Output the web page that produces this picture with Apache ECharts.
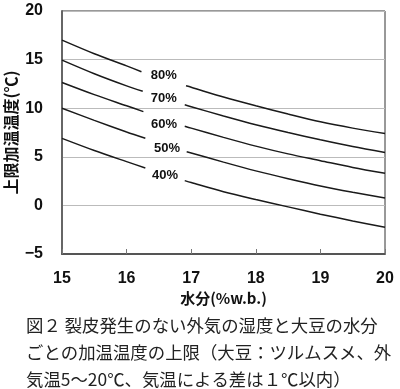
<!DOCTYPE html>
<html><head><meta charset="utf-8">
<script src="https://cdn.jsdelivr.net/npm/echarts@6/dist/echarts.min.js"></script>
<style>html,body{margin:0;padding:0;background:#fff}#c{width:400px;height:389px}</style>
</head><body><div id="c"></div>
<script>
// x = moisture (%w.b.); the two nulls are replaced by the gap edges where the label sits
const xs   = [15, 15.5, 16, null, null, 17, 17.5, 18, 18.5, 19, 19.5, 20];
const gapX = {
  '80%': [16.23, 16.92],
  '70%': [16.25, 16.90],
  '60%': [16.26, 16.90],
  '50%': [16.29, 16.93],
  '40%': [16.29, 16.90]
};
const rh80 = [17.0, 15.6, 14.35, 13.75, 12.3, 12.15, 11.15, 10.25, 9.4, 8.6, 7.95, 7.4];
const rh70 = [14.95, 13.55, 12.3, 11.75, 10.35, 10.15, 9.2, 8.3, 7.5, 6.75, 6.05, 5.45];
const rh60 = [12.65, 11.4, 10.25, 9.65, 8.15, 7.95, 7.0, 6.1, 5.3, 4.6, 3.9, 3.3];
const rh50 = [10.0, 8.75, 7.55, 6.9, 5.52, 5.4, 4.45, 3.55, 2.75, 2.0, 1.35, 0.75];
const rh40 = [6.9, 5.65, 4.5, 3.85, 2.55, 2.35, 1.4, 0.6, -0.15, -0.9, -1.6, -2.25];
const seriesNames = ['80%', '70%', '60%', '50%', '40%'];
const xTicks = [15, 16, 17, 18, 19, 20];
const yTicks = [-5, 0, 5, 10, 15, 20];
const yName = '上限加温温度(℃)';
const xName = '水分(%w.b.)';
const caption = [
  '図２ 裂皮発生のない外気の湿度と大豆の水分',
  'ごとの加温温度の上限（大豆：ツルムスメ、外',
  '気温5～20℃、気温による差は１℃以内）'
];
const labelOffsets = {'80%': [0, -3], '70%': [0, 0], '60%': [0, 6], '50%': [1, 3], '40%': [0, 1]};

const vals = [rh80, rh70, rh60, rh50, rh40];
function build(name, v) {
  const g = gapX[name];
  const pts = [[xs[0], v[0]], [xs[1], v[1]], [xs[2], v[2]], [g[0], v[3]], '-', [g[1], v[4]]];
  for (let i = 5; i < xs.length; i++) pts.push([xs[i], v[i]]);
  return pts;
}
const series = seriesNames.map((n, i) => {
  const v = vals[i], g = gapX[n];
  return {
    name: n, type: 'line', data: build(n, v), smooth: 0.3, symbol: 'none',
    connectNulls: false,
    lineStyle: {color: '#1a1a1a', width: 1.5},
    markPoint: {
      symbol: 'circle', symbolSize: 0,
      label: {show: true, formatter: n, color: '#111', fontWeight: 'bold', fontSize: 13,
              fontFamily: 'Liberation Sans, Arial, sans-serif', offset: labelOffsets[n]},
      data: [{coord: [(g[0] + g[1]) / 2, (v[3] + v[4]) / 2]}]
    },
    z: 3
  };
});

const chart = echarts.init(document.getElementById('c'));
chart.setOption({
  animation: false,
  backgroundColor: '#fff',
  title: {
    text: caption.join('\n'), left: 21, top: 307,
    textStyle: {fontFamily: 'Noto Sans CJK JP', fontWeight: 'normal', fontSize: 17.4, lineHeight: 27, color: '#222'}
  },
  grid: {left: 62, right: 15, top: 11, bottom: 135, show: true, borderColor: '#333', borderWidth: 1,
         containLabel: false, outerBoundsMode: 'none'},
  xAxis: {
    type: 'value', min: xTicks[0], max: xTicks[xTicks.length - 1], interval: 1,
    name: xName, nameLocation: 'middle', nameGap: 37, nameMoveOverlap: false,
    nameTextStyle: {fontWeight: 'bold', fontSize: 15, color: '#111', fontFamily: 'Noto Sans CJK JP'},
    axisLine: {onZero: false, lineStyle: {color: '#555', width: 2}},
    axisTick: {inside: true, length: 5, lineStyle: {color: '#777'}},
    axisLabel: {margin: 17, fontWeight: 'bold', fontSize: 16, color: '#111', fontFamily: 'Liberation Sans, Arial, sans-serif'},
    splitLine: {show: false}
  },
  yAxis: {
    type: 'value', min: yTicks[0], max: yTicks[yTicks.length - 1], interval: 5,
    name: yName, nameLocation: 'middle', nameGap: 43, nameRotate: 90, nameMoveOverlap: false,
    nameTextStyle: {fontWeight: 'bold', fontSize: 16, color: '#111', fontFamily: 'Noto Sans CJK JP'},
    axisLine: {show: true, onZero: false, lineStyle: {color: '#666', width: 2}},
    axisTick: {show: false},
    axisLabel: {margin: 19, fontWeight: 'bold', fontSize: 16, color: '#111', fontFamily: 'Liberation Sans, Arial, sans-serif',
                formatter: v => String(v).replace('-', '−')},
    splitLine: {lineStyle: {color: '#bbb', width: 1}}
  },
  series: series
});
</script></body></html>
